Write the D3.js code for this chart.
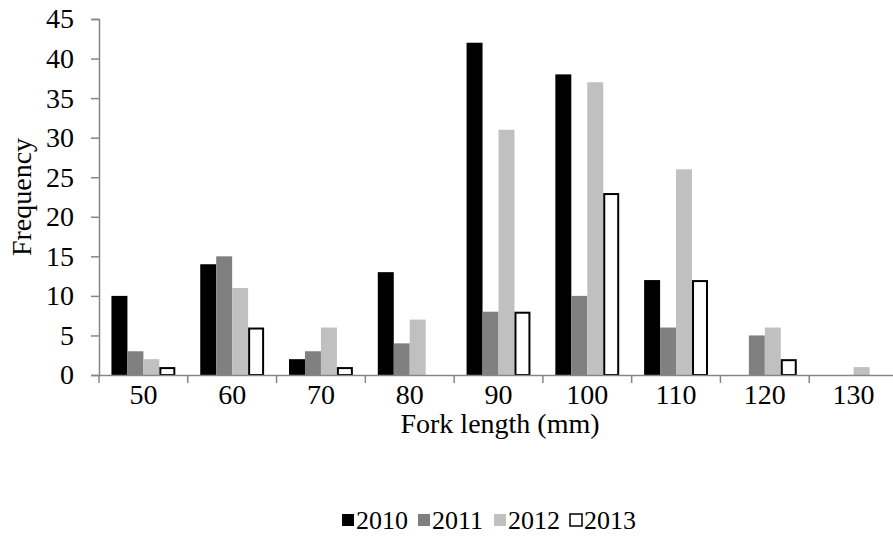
<!DOCTYPE html>
<html><head><meta charset="utf-8">
<script src="https://cdn.jsdelivr.net/npm/d3@7"></script>
<style>body{margin:0;background:#fff}svg{display:block}text{font-family:"Liberation Serif","Times New Roman",serif;fill:#000}</style>
</head><body>
<svg id="c" width="893" height="540"></svg>
<script>
const categories = ["50","60","70","80","90","100","110","120","130"];
const seriesNames = ["2010","2011","2012","2013"];
const s2010 = [10,14,2,13,42,38,12,0,0];
const s2011 = [3,15,3,4,8,10,6,5,0];
const s2012 = [2,11,6,7,31,37,26,6,1];
const s2013 = [1,6,1,0,8,23,12,2,0];
const yTicks = [0,5,10,15,20,25,30,35,40,45];
const seriesValues = [s2010,s2011,s2012,s2013];
const fills = ["#000000","#808080","#c0c0c0","#ffffff"];
const strokes = ["none","none","none","#000000"];

const svg = d3.select("#c");
const mLeft = 99, mRight = 898, mTop = 19, mBottom = 375;
const FS = 28, LFS = 26;
const x = d3.scaleBand().domain(categories).range([mLeft,mRight]).paddingInner(0).paddingOuter(0);
const y = d3.scaleLinear().domain([0,45]).range([mBottom,mTop]);
const inner = d3.scaleBand().domain(seriesNames).range([0,x.bandwidth()]).paddingOuter(0.78).paddingInner(0);

const data = categories.map((c,i)=>({c, vals: seriesNames.map((s,j)=>({s, j, v: seriesValues[j][i]}))}));

const g = svg.append("g");
g.selectAll("g.grp").data(data).join("g").attr("class","grp")
 .attr("transform", d=>`translate(${x(d.c)},0)`)
 .selectAll("rect").data(d=>d.vals.filter(e=>e.v>0)).join("rect")
 .attr("x", e=>inner(e.s) + (e.j===3?1:0))
 .attr("width", e=>inner.bandwidth() - (e.j===3?2:0))
 .attr("y", e=>y(e.v) + (e.j===3?1:0))
 .attr("height", e=>mBottom - y(e.v) - (e.j===3?1:0))
 .attr("fill", e=>fills[e.j])
 .attr("stroke", e=>strokes[e.j])
 .attr("stroke-width", 2);

// y axis
const yAx = svg.append("g").attr("transform",`translate(${mLeft},0)`)
 .call(d3.axisLeft(y).tickValues(yTicks).tickSize(8).tickPadding(17).tickFormat(d3.format("d")));
yAx.attr("font-size",null).attr("font-family",null);
yAx.select(".domain").attr("stroke","#868686").attr("stroke-width",1.5);
yAx.selectAll(".tick line").attr("stroke","#868686").attr("stroke-width",1.5);
yAx.selectAll("text").style("font-size",FS+"px").attr("fill","#000");

// x axis
const xAx = svg.append("g").attr("transform",`translate(0,${mBottom})`)
 .call(d3.axisBottom(x).tickSize(0).tickPadding(9));
xAx.attr("font-size",null).attr("font-family",null);
xAx.select(".domain").attr("stroke","#868686").attr("stroke-width",1.5);
xAx.selectAll("text").style("font-size",FS+"px").attr("fill","#000");
const bounds = categories.map(c=>x(c));
svg.append("g").selectAll("line").data(bounds).join("line")
 .attr("x1",d=>d).attr("x2",d=>d).attr("y1",mBottom).attr("y2",mBottom+8)
 .attr("stroke","#868686").attr("stroke-width",1.5);

svg.append("text").attr("x",500).attr("y",433).attr("text-anchor","middle").style("font-size",FS+"px").text("Fork length (mm)");
svg.append("text").attr("transform","translate(31,197) rotate(-90)").attr("text-anchor","middle").style("font-size",FS+"px").text("Frequency");

// legend
const legX = [341,417,493,569];
const leg = svg.append("g").selectAll("g").data(seriesNames).join("g")
 .attr("transform",(d,i)=>`translate(${legX[i]},0)`);
leg.append("rect").attr("x",1).attr("y",514).attr("width",12).attr("height",12)
 .attr("fill",(d,i)=>fills[i]).attr("stroke",(d,i)=>i===3?"#000":"none").attr("stroke-width",1.5);
leg.append("text").attr("x",15).attr("y",529).style("font-size",LFS+"px").text(d=>d);
</script>
</body></html>
